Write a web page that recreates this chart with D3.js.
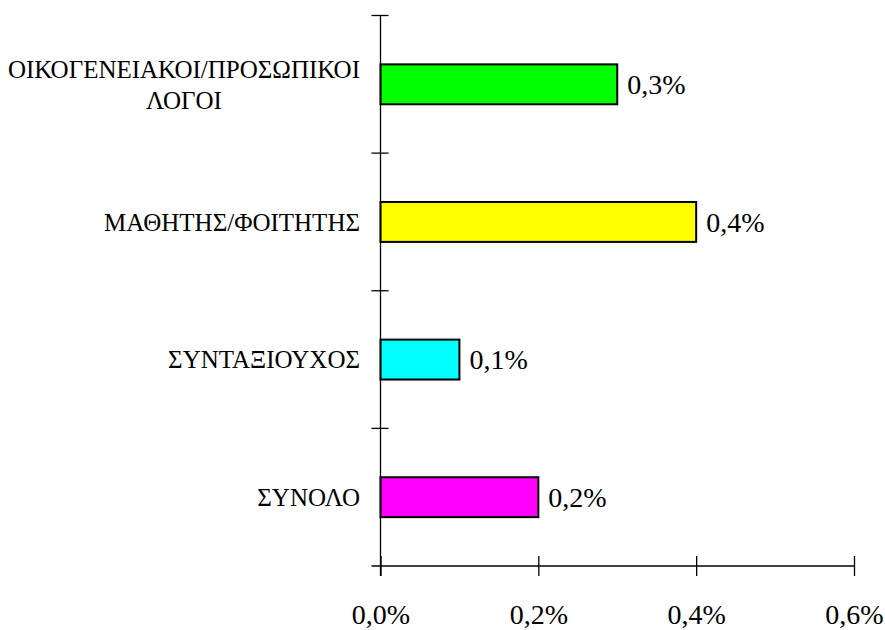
<!DOCTYPE html>
<html>
<head>
<meta charset="utf-8">
<script src="https://cdn.jsdelivr.net/npm/d3@7"></script>
<style>
  html, body { margin: 0; padding: 0; background: #fff; }
  svg { display: block; }
  text { font-family: "Liberation Serif", "Times New Roman", serif; fill: #000; }
</style>
</head>
<body>
<svg id="chart" width="885" height="630"></svg>
<script>
const categories = [
  ["ΟΙΚΟΓΕΝΕΙΑΚΟΙ/ΠΡΟΣΩΠΙΚΟΙ", "ΛΟΓΟΙ"],
  ["ΜΑΘΗΤΗΣ/ΦΟΙΤΗΤΗΣ"],
  ["ΣΥΝΤΑΞΙΟΥΧΟΣ"],
  ["ΣΥΝΟΛΟ"]
];
const values = [0.003, 0.004, 0.001, 0.002];
const colors = ["#00ff00", "#ffff00", "#00ffff", "#ff00ff"];
const xTicks = [0, 0.002, 0.004, 0.006];

(function () {
const svg = d3.select("#chart");
const plotLeft = 380.5, plotRight = 854, plotTop = 15.5, plotBottom = 566;

const locale = d3.formatLocale({decimal: ",", thousands: ".", grouping: [3], currency: ["", "€"]});
const fmt = locale.format(".1%");

const x = d3.scaleLinear().domain([0, 0.006]).range([plotLeft, plotRight]);
const keys = categories.map((c, i) => i);
const y = d3.scaleBand().domain(keys).range([plotTop, plotBottom]).paddingInner(0.71).paddingOuter(0.355);

// bars
svg.append("g").selectAll("rect").data(values).join("rect")
  .attr("x", x(0))
  .attr("y", (d, i) => y(i))
  .attr("width", d => x(d) - x(0))
  .attr("height", y.bandwidth())
  .attr("fill", (d, i) => colors[i])
  .attr("stroke", "#000")
  .attr("stroke-width", 2);

// value labels
svg.append("g").selectAll("text").data(values).join("text")
  .attr("x", d => x(d) + 10)
  .attr("y", (d, i) => y(i) + y.bandwidth() / 2)
  .attr("dy", "0.35em")
  .attr("font-size", 28)
  .text(d => fmt(d));

const axisColor = "#000";
// y axis line
svg.append("line")
  .attr("x1", plotLeft).attr("x2", plotLeft)
  .attr("y1", plotTop).attr("y2", plotBottom + 10)
  .attr("stroke", axisColor).attr("stroke-width", 1.3);
// category ticks at band boundaries
const boundaries = d3.range(categories.length).map(i => plotTop + i * y.step());
svg.append("g").selectAll("line").data(boundaries).join("line")
  .attr("x1", plotLeft - 9).attr("x2", plotLeft + 8)
  .attr("y1", d => d).attr("y2", d => d)
  .attr("stroke", axisColor).attr("stroke-width", 1.3);

// x axis
const xg = svg.append("g").attr("transform", `translate(0,${plotBottom})`)
  .call(d3.axisBottom(x).tickValues(xTicks).tickSize(10).tickPadding(30).tickFormat(fmt));
xg.select(".domain").remove();
xg.append("line").attr("x1", plotLeft - 9).attr("x2", plotRight).attr("y1", 0).attr("y2", 0)
  .attr("stroke", axisColor).attr("stroke-width", 1.3);
xg.selectAll(".tick line").attr("y1", -10).attr("y2", 10)
  .attr("stroke", axisColor).attr("stroke-width", 1.3);
xg.selectAll(".tick text")
  .attr("font-family", "Liberation Serif, Times New Roman, serif")
  .attr("font-size", 28).attr("fill", "#000")
  .attr("dy", null).attr("y", 58);

// category labels
const labelRight = 360;
const lineH = 31;
categories.forEach((lines, i) => {
  const cy = y(i) + y.bandwidth() / 2;
  const t = svg.append("text").attr("font-size", 25).attr("text-anchor", "middle");
  const n = lines.length;
  const spans = lines.map((ln, j) =>
    t.append("tspan").attr("x", 0).attr("y", cy + (j - (n - 1) / 2) * lineH).attr("dy", "0.35em").text(ln));
  const w = d3.max(spans, s => s.node().getComputedTextLength());
  spans.forEach(s => s.attr("x", labelRight - w / 2));
});
})();
</script>
</body>
</html>
